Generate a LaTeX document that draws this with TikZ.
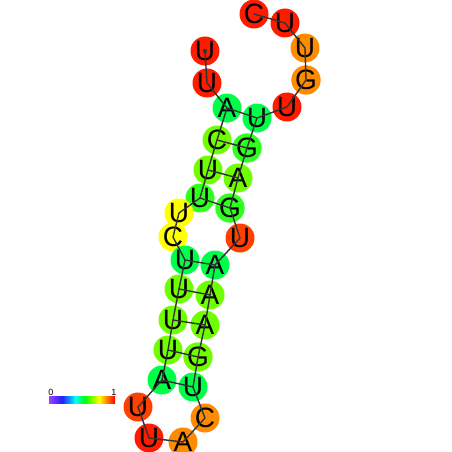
\documentclass[tikz,border=0pt]{standalone}
\usepackage{fontspec}
\setmainfont{Liberation Sans}
\definecolor{rnaink}{HTML}{333333}
\definecolor{rnared}{HTML}{FF1A00}
\definecolor{rnavermilion}{HTML}{FF4000}
\definecolor{rnaorange}{HTML}{FF8C00}
\definecolor{rnayellow}{HTML}{FFFF00}
\definecolor{rnalime}{HTML}{70FF00}
\definecolor{rnagreenb}{HTML}{30FF20}
\definecolor{rnagreen}{HTML}{00FF48}
\definecolor{barpurple}{HTML}{A040FF}
\definecolor{barblue}{HTML}{2020FF}
\definecolor{barcyan}{HTML}{00FFFF}
\definecolor{bargreen}{HTML}{00FF00}
\definecolor{baryellow}{HTML}{FFFF00}
\definecolor{barred}{HTML}{FF0000}
\tikzset{
  base/.style={circle, inner sep=0pt, minimum size=29pt, font=\fontsize{28}{28}\selectfont},
  backbone/.style={rnaink, line width=1.4pt, line join=round},
  pairbond/.style={rnaink, line width=1.4pt},
  bar label/.style={inner sep=0pt, font=\fontsize{9}{9}\selectfont},
}

\begin{document}
\begin{tikzpicture}[x=1pt, y=-1pt, line cap=round]
  \useasboundingbox (0,0) rectangle (452,452);

  % bases, 5' to 3'
  \foreach \n/\x/\y/\b/\c in {
      1/205/51/U/rnared, 2/207/83/U/rnared, 3/227/108/A/rnagreen,
      4/217/140/C/rnalime, 5/208/170/U/rnalime, 6/200/198/U/rnagreenb,
      7/179/213/U/rnayellow, 8/173/237/C/rnayellow, 9/185/260/U/rnagreen,
      10/179/289/U/rnalime, 11/173/320/U/rnalime, 12/168/350/U/rnalime,
      13/162/380/A/rnagreen, 14/138/407/U/rnavermilion, 15/149/438/U/rnared,
      16/183/442/A/rnaorange, 17/205/418/C/rnaorange, 18/193/387/U/rnagreen,
      19/198/357/G/rnalime, 20/205/325/A/rnalime, 21/210/295/A/rnalime,
      22/215/265/A/rnagreen, 23/240/238/U/rnavermilion, 24/230/208/G/rnagreenb,
      25/238/178/A/rnalime, 26/247/148/G/rnagreenb, 27/257/118/U/rnagreen,
      28/287/107/U/rnared, 29/306/80/G/rnaorange, 30/305/48/U/rnaorange,
      31/285/23/U/rnared, 32/254/14/C/rnared}
    \node[base, fill=\c] (n\n) at (\x,\y) {\b};

  % backbone and base pairs
  \draw[backbone] (n1.center) foreach \i in {2,...,32} {-- (n\i.center)};
  \foreach \i/\j in {3/27, 4/26, 5/25, 6/24, 9/22, 10/21, 11/20, 12/19, 13/18}
    \draw[pairbond] (n\i.center) -- (n\j.center);
  \fill[rnaink] (n1.center) circle (2.2pt);

  % colour bar
  \shade[left color=barpurple, right color=barblue] (49,396) rectangle (62,403);
  \shade[left color=barblue, right color=barcyan] (62,396) rectangle (75.5,403);
  \shade[left color=barcyan, right color=bargreen] (75.5,396) rectangle (85,403);
  \shade[left color=bargreen, right color=baryellow] (85,396) rectangle (99,403);
  \shade[left color=baryellow, right color=barred] (99,396) rectangle (115,403);
  \node[bar label] (bar0) at (51,392) {0};
  \node[bar label] (bar1) at (114,392) {1};
\end{tikzpicture}
\end{document}
